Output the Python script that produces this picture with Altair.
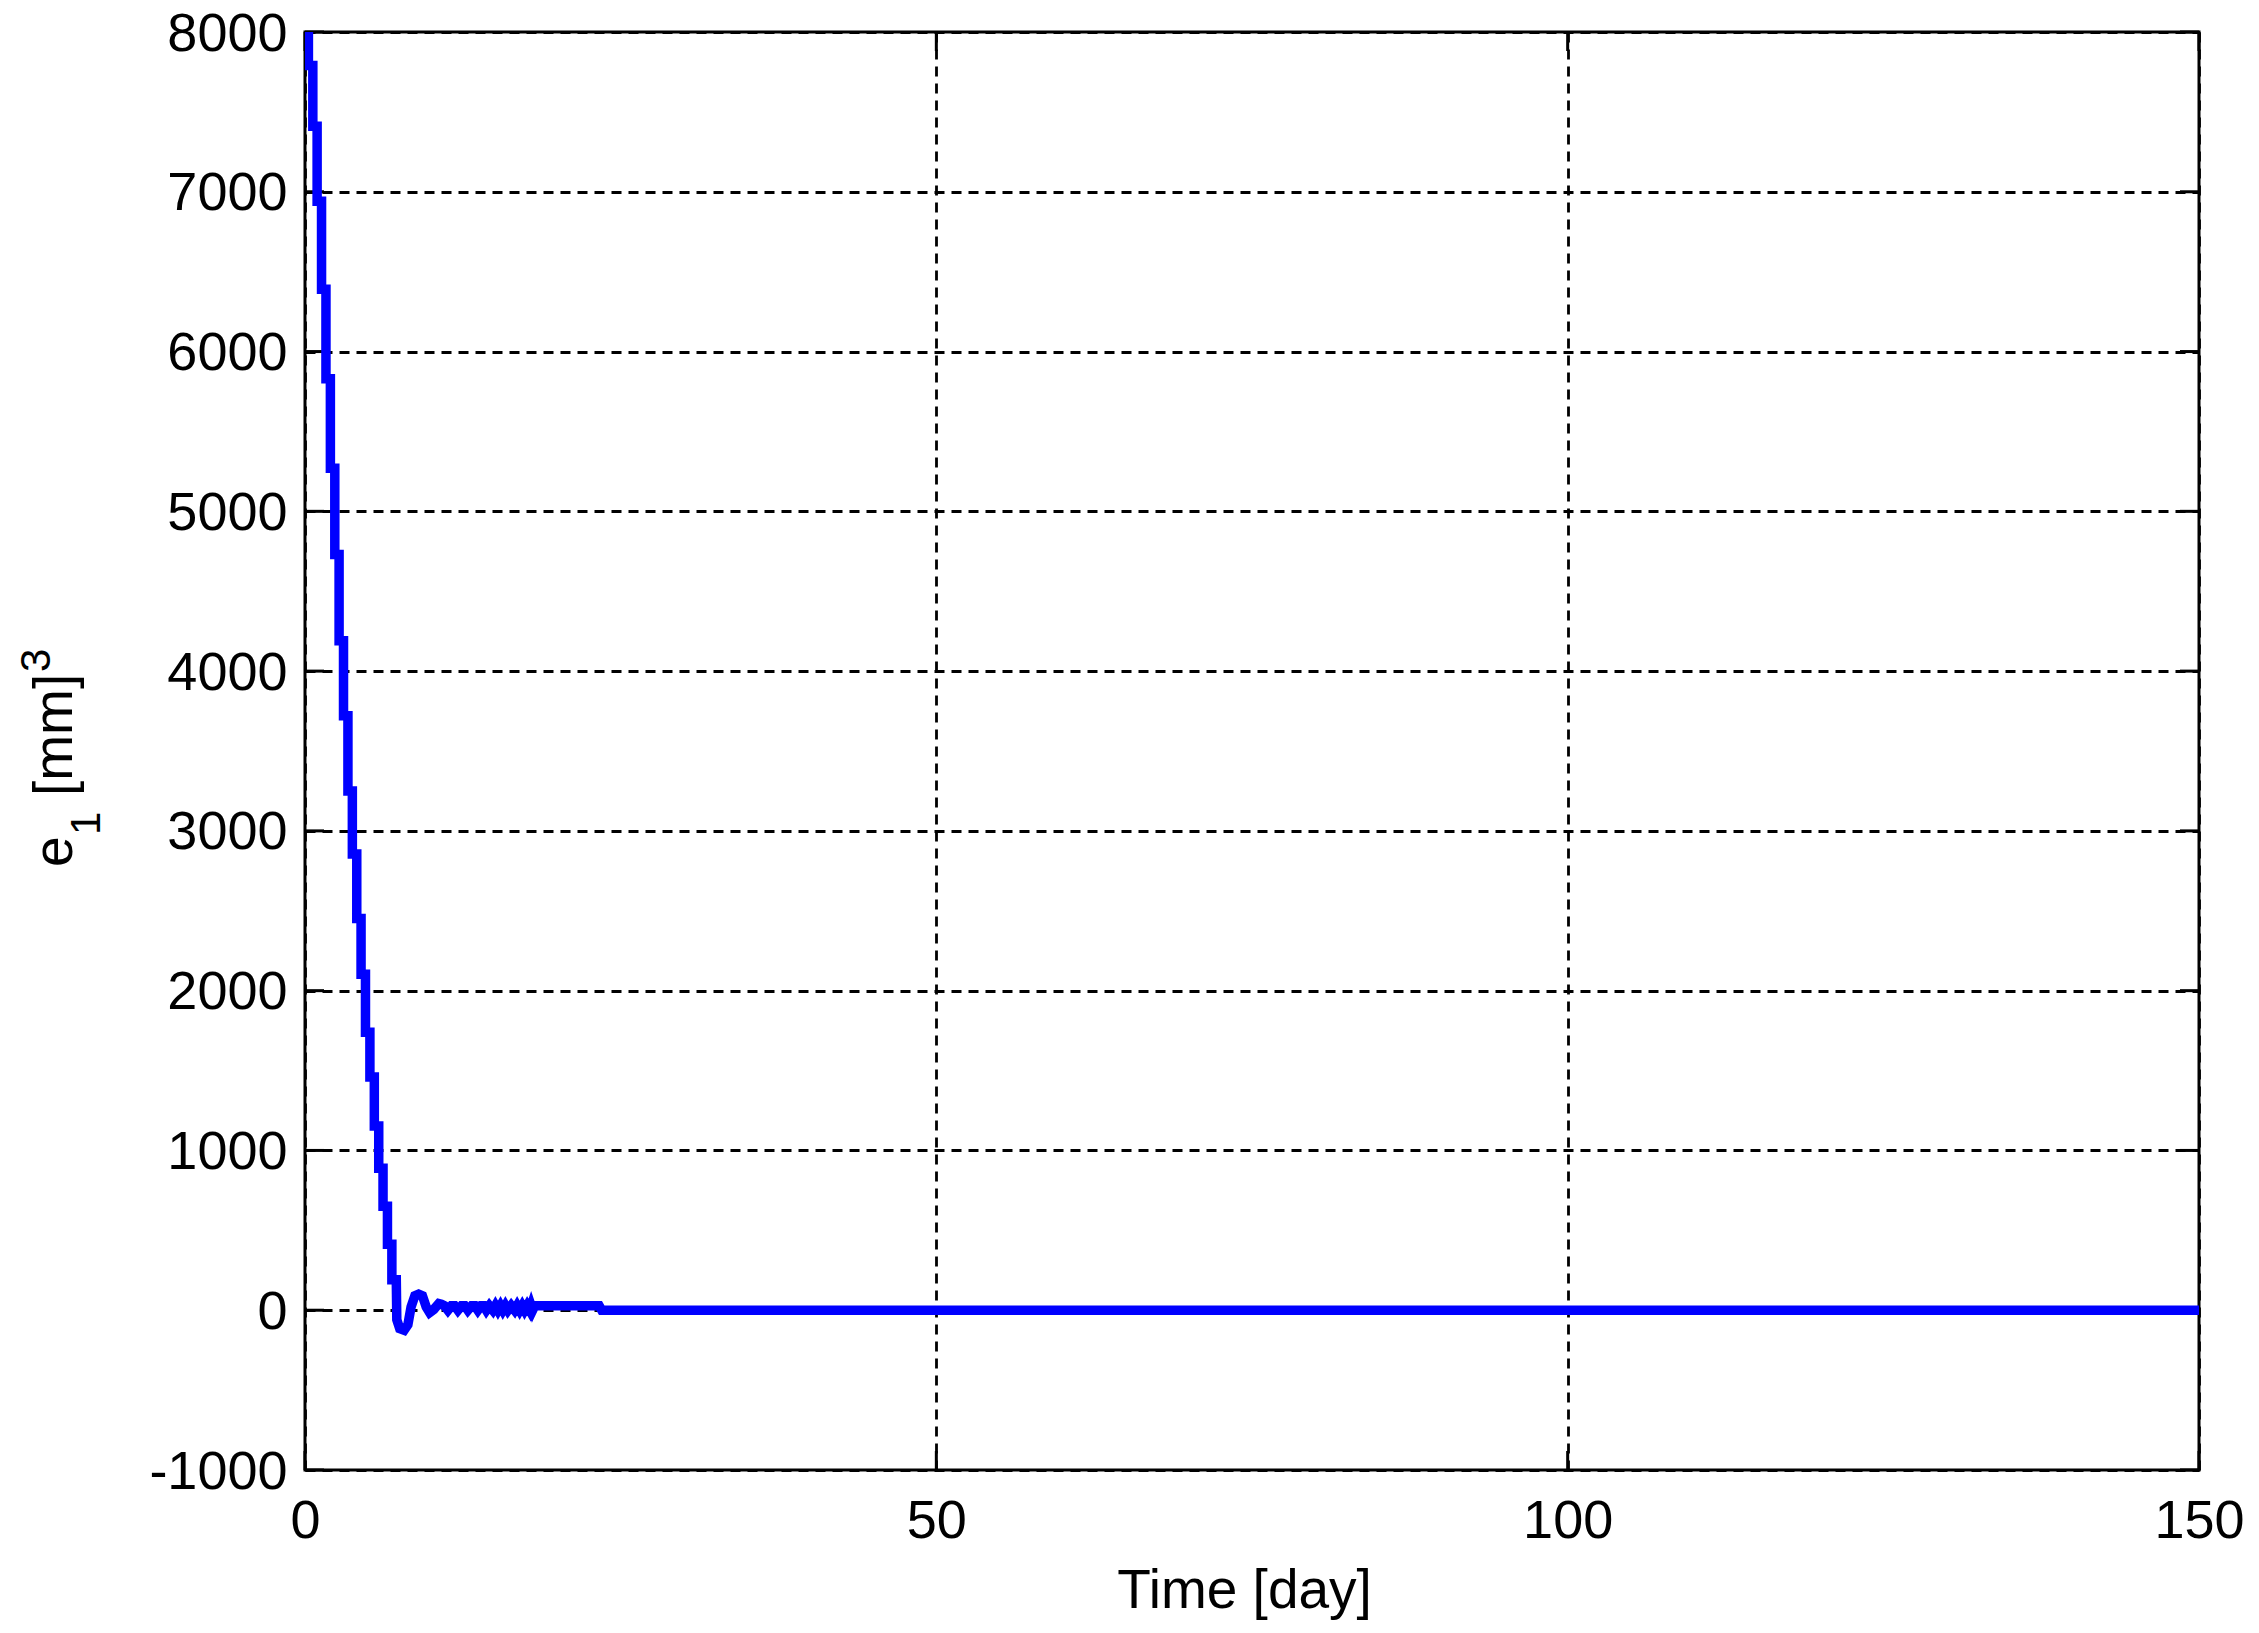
import altair as alt
import pandas as pd

# ---- data ----
step_days = [0.0, 0.27, 0.62, 0.96, 1.31, 1.66, 2.01, 2.36, 2.70, 3.05, 3.40,
             3.75, 4.10, 4.44, 4.79, 5.14, 5.49, 5.84, 6.18, 6.53, 6.88]
step_values = [8000, 7790, 7410, 6940, 6390, 5830, 5270, 4730, 4190, 3720, 3250,
               2856, 2451, 2102, 1739, 1460, 1153, 888, 650, 413, 190]

tail_days = [7.23, 7.27, 7.50, 7.85, 8.15, 8.40, 8.70, 9.00, 9.30, 9.60, 9.87,
             10.20, 10.60, 10.80, 11.05, 11.32, 11.60, 11.85, 12.11, 12.40, 12.65,
             12.90, 13.20, 13.45, 13.69, 13.95, 14.15, 14.36, 14.60, 14.88, 15.08,
             15.28, 15.48, 15.67, 15.87, 16.07, 16.33, 16.60, 16.80, 17.00, 17.20,
             17.39, 17.59, 17.79, 17.91, 18.03, 18.20, 23.30, 23.50, 150.0]
tail_values = [190, -60, -115, -125, -90, 20, 90, 100, 90, 20, -15,
               5, 42, 38, 28, 0, 28, 28, 0, 28, 28,
               0, 28, 28, 0, 28, 28, 0, 28, 0, 28,
               0, 28, 0, 28, 0, 28, 0, 28, 0, 28,
               0, 28, 0, 28, 0, 28, 28, 0, 0]

x_ticks = [0, 50, 100, 150]
y_ticks = [-1000, 0, 1000, 2000, 3000, 4000, 5000, 6000, 7000, 8000]

x_title = "Time [day]"
y_title_parts = ["e", "1", "[mm]", "3"]

# ---- build the series (staircase + tail) ----
pts_day, pts_val = [], []
for k, v in enumerate(step_values):
    t0 = step_days[k]
    t1 = step_days[k + 1] if k + 1 < len(step_days) else tail_days[0]
    pts_day += [t0, t1]
    pts_val += [v, v]
pts_day += tail_days[1:]
pts_val += tail_values[1:]
df = pd.DataFrame({"day": pts_day, "e1": pts_val, "i": list(range(len(pts_day)))})

FONT = "Liberation Sans"
W, H = 1894, 1438
TL = 19

xscale = alt.Scale(domain=[0, 150], nice=False, zero=False)
yscale = alt.Scale(domain=[-1000, 8000], nice=False, zero=False)

xaxis = alt.Axis(values=x_ticks, grid=True, domain=False, ticks=False, tickSize=0,
                 labelFont=FONT, labelFontSize=54, labelColor="black", labelPadding=24,
                 labelFlush=False, labelOverlap=False,
                 labelExpr="'' + datum.value",
                 title=x_title, titleFont=FONT, titleFontSize=55, titleFontWeight="normal",
                 titleColor="black", titleX=939, titleY=137, titleBaseline="alphabetic",
                 titleAlign="center")
yaxis = alt.Axis(values=y_ticks, grid=True, domain=False, ticks=False, tickSize=0,
                 labelFont=FONT, labelFontSize=54, labelColor="black", labelPadding=18,
                 labelFlush=False, labelOverlap=False, labelOffset=2,
                 labelExpr="datum.value < 0 ? '-' + (-datum.value) : '' + datum.value",
                 title="")

line = alt.Chart(df).mark_line(color="#0000FF", strokeWidth=9.5, clip=True,
                               strokeJoin="miter", strokeCap="butt").encode(
    x=alt.X("day:Q", scale=xscale, axis=xaxis),
    y=alt.Y("e1:Q", scale=yscale, axis=yaxis),
    order="i:Q",
)

xt = pd.DataFrame({"d": x_ticks})
yt = pd.DataFrame({"v": y_ticks})
rule = dict(color="black", strokeWidth=3)
tick_b = alt.Chart(xt).mark_rule(**rule).encode(
    x=alt.X("d:Q", scale=xscale), y=alt.value(H), y2=alt.value(H - TL))
tick_t = alt.Chart(xt).mark_rule(**rule).encode(
    x=alt.X("d:Q", scale=xscale), y=alt.value(0), y2=alt.value(TL))
tick_l = alt.Chart(yt).mark_rule(**rule).encode(
    y=alt.Y("v:Q", scale=yscale), x=alt.value(0), x2=alt.value(TL))
tick_r = alt.Chart(yt).mark_rule(**rule).encode(
    y=alt.Y("v:Q", scale=yscale), x=alt.value(W), x2=alt.value(W - TL))


def ytext(txt, x, y, size):
    return alt.Chart(pd.DataFrame({"t": [txt]})).mark_text(
        angle=270, align="left", baseline="alphabetic", font=FONT,
        fontSize=size, color="black").encode(
        text="t:N", x=alt.value(x), y=alt.value(y))


ytitle = [
    ytext(y_title_parts[0], -233, 835, 55),
    ytext(y_title_parts[1], -205, 803, 42),
    ytext(y_title_parts[2], -233, 764, 55),
    ytext(y_title_parts[3], -255, 640, 42),
]

chart = alt.layer(tick_b, tick_t, tick_l, tick_r, line, *ytitle).properties(
    width=W, height=H,
    padding={"left": 297, "top": 24, "right": 50, "bottom": 150},
    autosize=alt.AutoSizeParams(type="none"),
    background="white",
).configure_view(stroke="black", strokeWidth=3).configure_axis(
    gridDash=[10, 7], gridColor="black", gridWidth=2.8, gridOpacity=1,
)

chart.save("out.html", embed_options={"renderer": "svg", "actions": False})
